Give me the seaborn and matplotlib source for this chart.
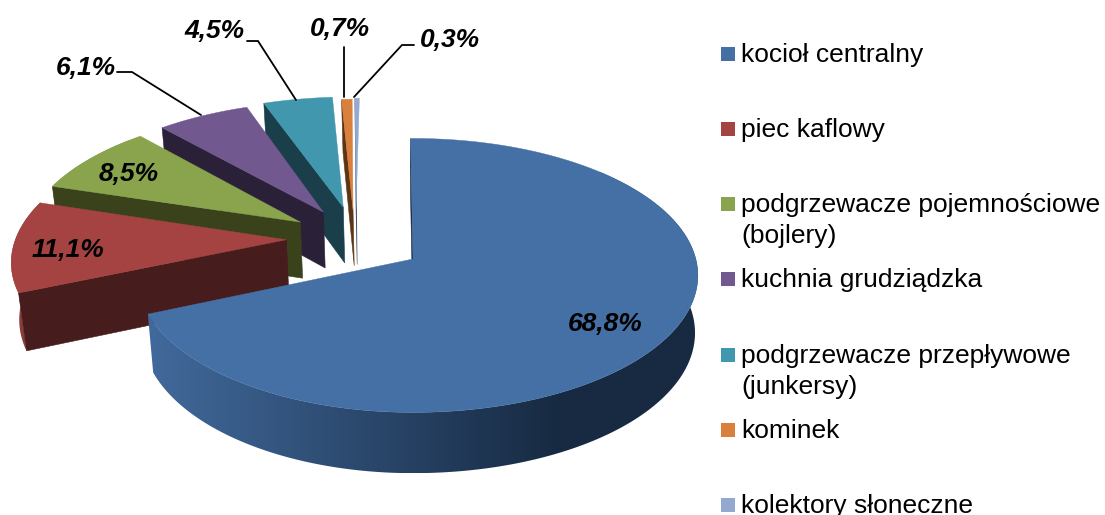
import numpy as np
import pandas as pd
import matplotlib
matplotlib.use("Agg")
import matplotlib.pyplot as plt
from matplotlib.colors import LinearSegmentedColormap
from matplotlib.patches import Polygon
import seaborn as sns

# ── Data ───────────────────────────────────────────────────────────────────────
categories = ["kocioł centralny", "piec kaflowy", "podgrzewacze pojemnościowe\n(bojlery)",
              "kuchnia grudziądzka", "podgrzewacze przepływowe\n(junkersy)", "kominek",
              "kolektory słoneczne"]
values = [68.8, 11.1, 8.5, 6.1, 4.5, 0.7, 0.3]
value_labels = ["68,8%", "11,1%", "8,5%", "6,1%", "4,5%", "0,7%", "0,3%"]

# ── Style ──────────────────────────────────────────────────────────────────────
top_colors = ["#4570A5", "#A44342", "#89A44D", "#71588F", "#4197AE", "#D9813C", "#93A9CF"]
cut_colors = ["#16283F", "#471C1C", "#3A421C", "#2A2138", "#1A3E4A", "#5C3515", "#46536B"]
rim_colors = [["#41699B", "#172A42"], ["#8F3A39", "#7A3130"], ["#6F853E", "#5A6C32"],
              ["#5B4773", "#4A3A5E"], ["#347A8D", "#2A6373"], ["#A8642F", "#8C5327"],
              ["#75879F", "#617285"]]
explode_x = [0.0, -0.46, -0.416, -0.334, -0.261, -0.224, -0.213]
explode_y = [0.0, 0.145, 0.2825, 0.362, 0.402, 0.38, 0.39]
left_scale = [0.98, 0.985, 1.005, 1.01, 1.025, 1.0, 1.0]

CX, CY = 413, 259       # apex of the big slice, px
RX, RY = 280, 135       # ground radius on screen
PERSP = 0.12
DEPTH = 57
ROT = -0.6              # degrees, where the first slice starts
FONT = "Liberation Sans"


def project(gx, gy):
    s = 1.0 / (1.0 + PERSP * gy)
    return CX + RX * gx * s, CY - RY * gy * s, s


def lower(px, py, s):
    shrink = np.where(px > CX, 0.99, 0.98)
    return CX + (px - CX) * shrink, py + DEPTH * np.sqrt(s)


sns.set_theme(style="white", rc={"axes.facecolor": "white", "figure.facecolor": "white"})
plt.rcParams["font.family"] = [FONT, "DejaVu Sans"]

fig, ax = plt.subplots(figsize=(11.05, 5.15), dpi=100)
ax.set_position([0, 0, 1, 1])

edges = np.concatenate([[0], np.cumsum(values)]) / sum(values) * 360 + ROT

# far slices first, the big one last
for i in reversed(range(len(values))):
    a = np.radians(np.linspace(edges[i], edges[i + 1], 300))
    sx = np.sin(a)
    gx = explode_x[i] + np.where(sx < 0, sx * left_scale[i], sx * 1.01)
    gy = explode_y[i] + np.cos(a)
    px, py, s = project(gx, gy)
    bx, by = lower(px, py, s)
    ax_, ay_, as_ = project(explode_x[i], explode_y[i])
    abx, aby = lower(ax_, ay_, as_)
    base_z = 30 - 3 * i

    # outer rim, only where it faces the viewer, shaded across the chart
    front = np.cos(a) < 0.7
    if front.sum() > 1:
        rim = np.vstack([np.column_stack([px[front], py[front]]),
                         np.column_stack([bx[front], by[front]])[::-1]])
        cmap = LinearSegmentedColormap.from_list("rim", sns.blend_palette(rim_colors[i], 64))
        x0, x1 = rim[:, 0].min(), rim[:, 0].max()
        ramp = np.clip((np.linspace(x0, x1, 512) - 149) / (560 - 149), 0, 1)[None, :]
        im = ax.imshow(ramp, cmap=cmap, vmin=0, vmax=1, aspect="auto",
                       extent=(x0, x1, rim[:, 1].max(), rim[:, 1].min()),
                       interpolation="bilinear", zorder=base_z)
        clip = Polygon(rim, closed=True, transform=ax.transData, fc="none", ec="none")
        ax.add_patch(clip)
        im.set_clip_path(clip)

    # cut face on the start edge
    ax.add_patch(Polygon([(ax_, ay_), (px[0], py[0]), (bx[0], by[0]), (abx, aby)],
                         closed=True, fc=cut_colors[i], ec=cut_colors[i], lw=0.4,
                         zorder=base_z + 1))

    # top face
    ax.add_patch(Polygon(np.vstack([[ax_, ay_], np.column_stack([px, py])]),
                         closed=True, fc=top_colors[i], ec=top_colors[i], lw=0.3,
                         zorder=base_z + 2))

# ── Value labels and leaders ───────────────────────────────────────────────────
label_x = [605, 68, 129, 86, 214, 340, 450]
label_y = [324, 250, 174, 68, 31, 29, 40]
for x, y, t in zip(label_x, label_y, value_labels):
    ax.text(x, y, t, ha="center", va="center", fontsize=19, fontweight="bold",
            fontstyle="italic", color="black", zorder=50)

leaders = [([117, 132, 201], [72, 72, 115]),
           ([247, 258, 296], [41, 41, 100]),
           ([344, 344], [47, 97]),
           ([414, 402, 354], [45, 45, 97])]
for lx, ly in leaders:
    ax.plot(lx, ly, color="black", lw=1.3, zorder=45, solid_joinstyle="miter")

# ── Legend ─────────────────────────────────────────────────────────────────────
row_y = [54, 129, 204, 279, 355, 430, 505]
legend_df = pd.DataFrame({"x": [728] * len(categories), "y": row_y, "name": categories})
sns.scatterplot(data=legend_df, x="x", y="y", hue="name", palette=top_colors, marker="s",
                s=102, linewidth=0, legend=False, ax=ax, zorder=40)
for y, name in zip(row_y, categories):
    lines = name.split("\n")
    for k, line in enumerate(lines):
        ax.text(741, y + 1 + k * 31, line, ha="left", va="center", fontsize=19,
                color="black", zorder=50, clip_on=False)

ax.set_xlim(0, 1105)
ax.set_ylim(515, 0)
ax.set_xlabel("")
ax.set_ylabel("")
ax.axis("off")

fig.savefig("out.png", dpi=100)
